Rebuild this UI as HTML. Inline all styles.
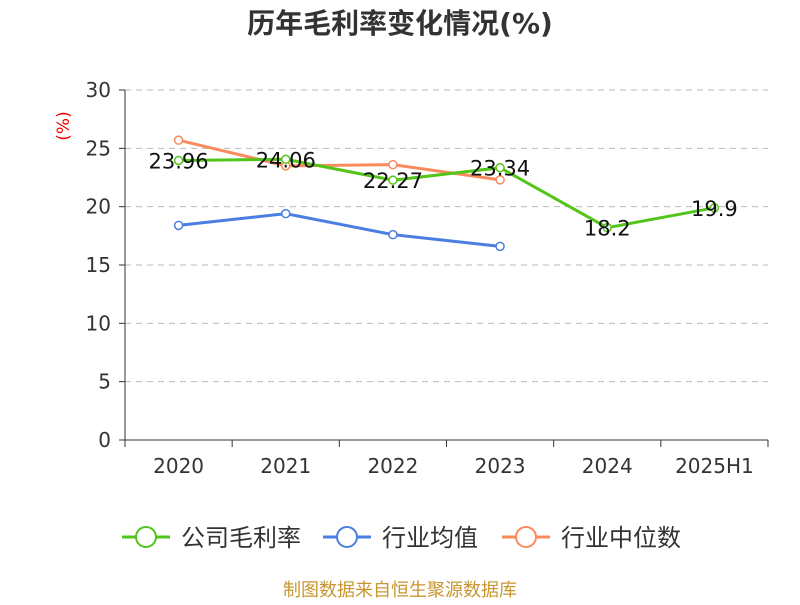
<!DOCTYPE html>
<html><head><meta charset="utf-8"><style>
body{margin:0;background:#fff;}
svg text{font-family:"DejaVu Sans","Noto Sans CJK SC",sans-serif;}
</style></head><body>
<svg id="chart" width="800" height="600" viewBox="0 0 800 600" xmlns="http://www.w3.org/2000/svg">
<text x="400" y="33" text-anchor="middle" font-size="28" font-weight="bold" fill="#333">历年毛利率变化情况(%)</text>
<text x="69" y="126" font-size="17" fill="#e00" transform="rotate(-90 69 126)" text-anchor="middle">(%)</text>
<g id="grid"></g><g id="axes"></g><g id="series"></g>
<g>
 <g><line x1="122" y1="537" x2="170" y2="537" stroke="#52c41a" stroke-width="3"/><circle cx="146" cy="537" r="10" fill="#fff" stroke="#52c41a" stroke-width="2"/><text x="181" y="546" font-size="24" fill="#333">公司毛利率</text></g>
 <g><line x1="323" y1="537" x2="371" y2="537" stroke="#4a7ee0" stroke-width="3"/><circle cx="347" cy="537" r="10" fill="#fff" stroke="#4a7ee0" stroke-width="2"/><text x="382" y="546" font-size="24" fill="#333">行业均值</text></g>
 <g><line x1="502" y1="537" x2="550" y2="537" stroke="#f98b5c" stroke-width="3"/><circle cx="526" cy="537" r="10" fill="#fff" stroke="#f98b5c" stroke-width="2"/><text x="561" y="546" font-size="24" fill="#333">行业中位数</text></g>
</g>
<text x="400" y="596" text-anchor="middle" font-size="18" fill="#c8962e">制图数据来自恒生聚源数据库</text>
</svg>
<script>
const categories=["2020","2021","2022","2023","2024","2025H1"];
const companyValues=[23.96,24.06,22.27,23.34,18.2,19.9];
const industryAvg=[18.4,19.4,17.6,16.6];
const industryMedian=[25.7,23.5,23.6,22.3];
const yTicks=[0,5,10,15,20,25,30];
const NS="http://www.w3.org/2000/svg";
const x0=125,x1=768,yTop=90,yBot=440,yMax=30;
const band=(x1-x0)/categories.length;
const xs=i=>x0+band*(i+0.5);
const ys=v=>yBot-(v/yMax)*(yBot-yTop);
function mk(tag,attrs,parent){const e=document.createElementNS(NS,tag);for(const k in attrs)e.setAttribute(k,attrs[k]);parent.appendChild(e);return e;}
const grid=document.getElementById('grid'),axes=document.getElementById('axes'),ser=document.getElementById('series');
yTicks.forEach(t=>{
 if(t>0){const g=mk('line',{x1:x0,x2:x1,y1:ys(t),y2:ys(t),stroke:'#bbb','stroke-dasharray':'6,5'},grid);
 
 }
 const tk=mk('line',{x1:x0-6,x2:x0,y1:ys(t),y2:ys(t),stroke:'#333'},axes);
 
 
 const tx=mk('text',{x:x0-14,y:ys(t)+7,'text-anchor':'end','font-size':20,fill:'#333'},axes);tx.textContent=t;
 
 
});
const ya=mk('line',{x1:x0,x2:x0,y1:yTop,y2:yBot,stroke:'#333'},axes);


const xa=mk('line',{x1:x0,x2:x1,y1:yBot,y2:yBot,stroke:'#333'},axes);


for(let i=0;i<=categories.length;i++){const tk=mk('line',{x1:x0+band*i,x2:x0+band*i,y1:yBot,y2:yBot+7,stroke:'#333'},axes);
 
 }
categories.forEach((c,i)=>{const t=mk('text',{x:xs(i),y:yBot+33,'text-anchor':'middle','font-size':20,fill:'#333'},axes);t.textContent=c;
 
 });
function line(vals,color,name,labels){
 const g=mk('g',{},ser);
 
 
 mk('polyline',{points:vals.map((v,i)=>xs(i)+','+ys(v)).join(' '),fill:'none',stroke:color,'stroke-width':3},g);
 vals.forEach((v,i)=>{const c=mk('circle',{cx:xs(i),cy:ys(v),r:4,fill:'#fff',stroke:color,'stroke-width':1.5},g);
  
  
  if(labels){const t=mk('text',{x:xs(i),y:ys(v)+8,'text-anchor':'middle','font-size':21,fill:'#111'},g);t.textContent=v;
   
   }
 });
}
line(industryAvg,'#4a7ee0','industry-avg-line',false);
line(industryMedian,'#f98b5c','industry-median-line',false);
line(companyValues,'#52c41a','company-line',true);
</script>
</body></html>
